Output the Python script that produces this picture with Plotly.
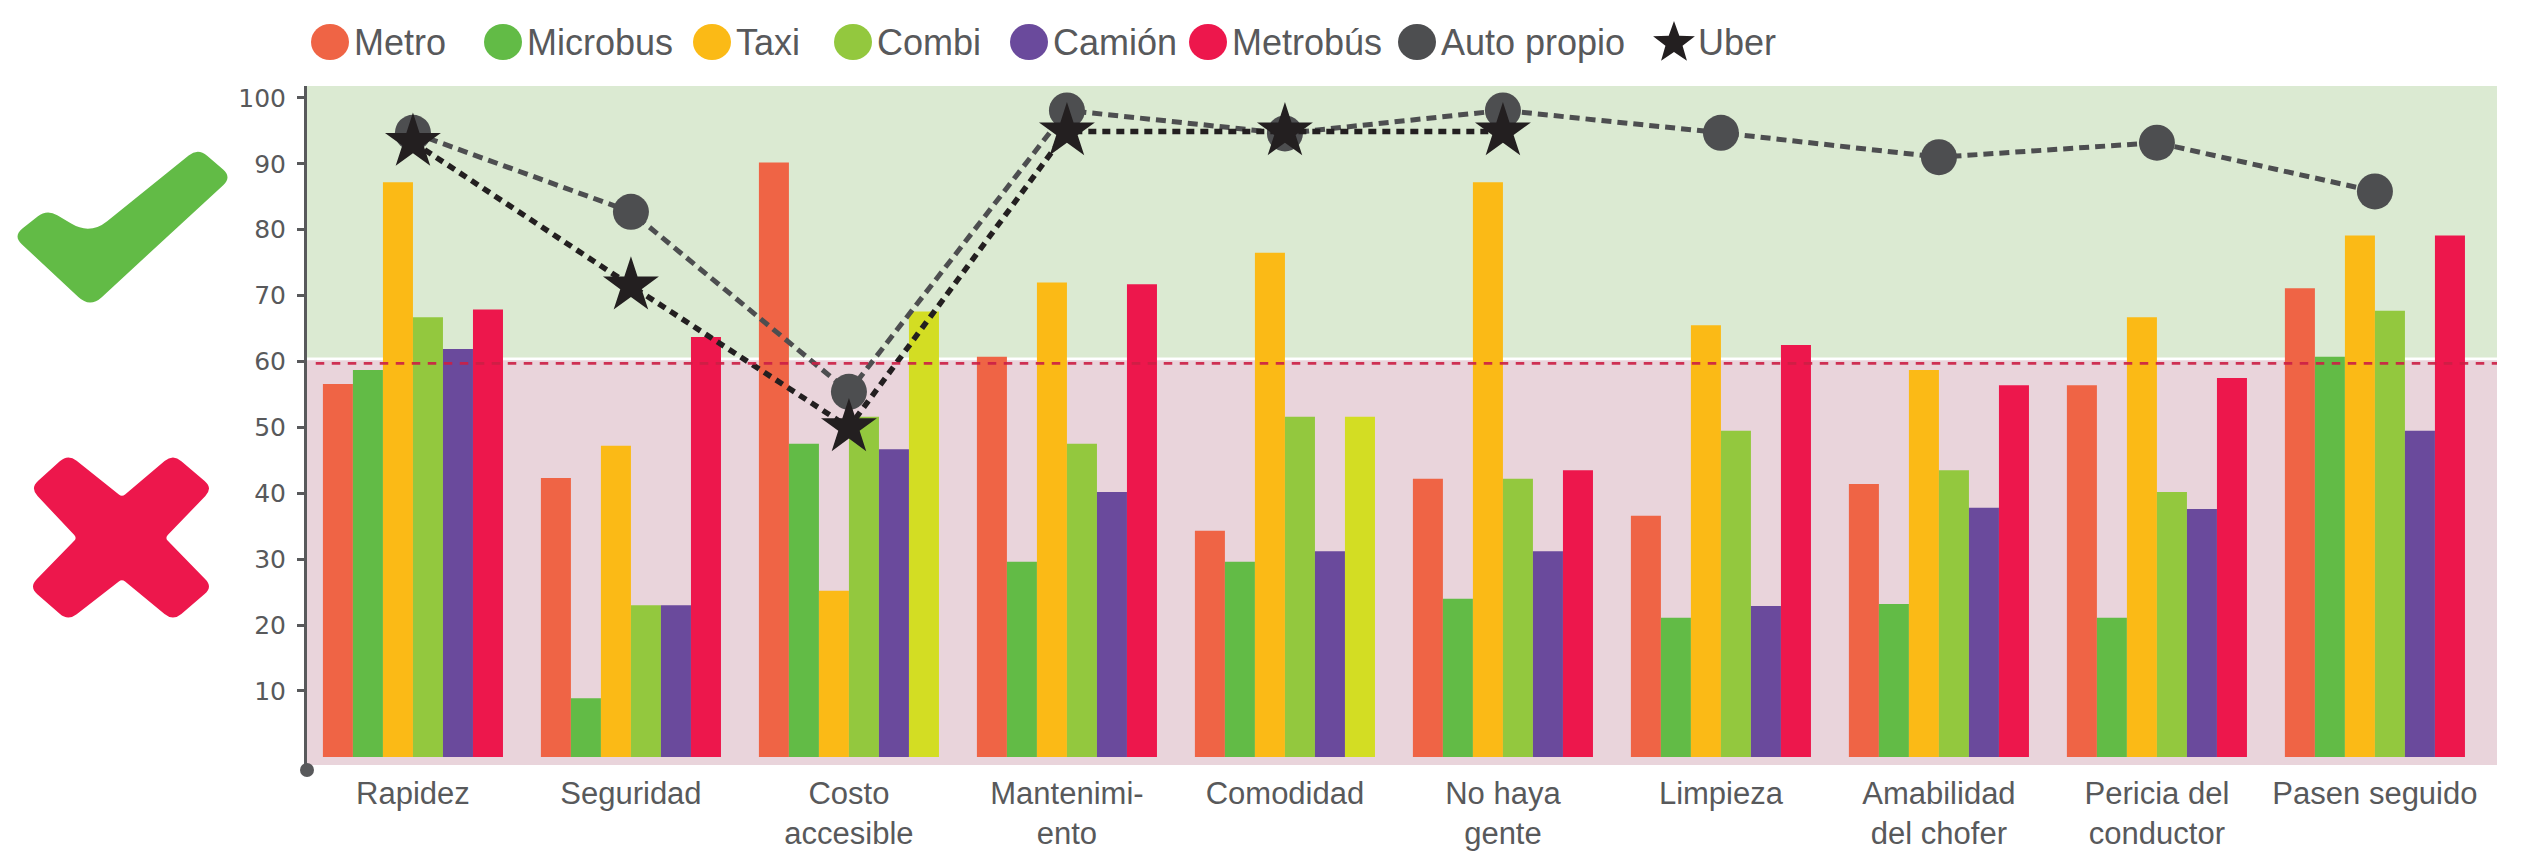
import plotly.graph_objects as go

# ---------------- data ----------------
categories = ["Rapidez", "Seguridad", "Costo<br>accesible", "Mantenimi-<br>ento", "Comodidad",
              "No haya<br>gente", "Limpieza", "Amabilidad<br>del chofer", "Pericia del<br>conductor",
              "Pasen seguido"]
metro = [56.6, 42.3, 90.2, 60.7, 34.3, 42.2, 36.6, 41.4, 56.4, 71.1]
microbus = [58.7, 8.9, 47.5, 29.6, 29.6, 24.0, 21.1, 23.2, 21.1, 60.7]
taxi = [87.2, 47.2, 25.2, 72.0, 76.5, 87.2, 65.5, 58.7, 66.7, 79.1]
combi = [66.7, 23.0, 51.6, 47.5, 51.6, 42.2, 49.5, 43.5, 40.2, 67.7]
camion = [61.9, 23.0, 46.7, 40.2, 31.2, 31.2, 22.9, 37.8, 37.6, 49.5]
metrobus = [67.9, 63.7, 67.6, 71.7, 51.6, 43.5, 62.5, 56.4, 57.5, 79.1]
auto_propio = [94.7, 82.7, 55.4, 98.1, 94.6, 98.1, 94.7, 91.0, 93.2, 85.8]
uber = [93.3, 71.5, 50.0, 94.9, 94.9, 94.9, None, None, None, None]
threshold = 59.7
y_ticks = [10, 20, 30, 40, 50, 60, 70, 80, 90, 100]

bar_names = ["Metro", "Microbus", "Taxi", "Combi", "Camión", "Metrobús"]
bar_values = [metro, microbus, taxi, combi, camion, metrobus]
bar_colors = ["#ef6445", "#62bb46", "#fbba16", "#93c83e", "#6a4a9c", "#ed174c"]
LIME = "#d3dd23"
metrobus_colors = [LIME if c in ("Costo<br>accesible", "Comodidad") else "#ed174c" for c in categories]

TEXT = "#58595b"
AUTO = "#4d4e50"
UBER = "#231f20"
FONT = "Liberation Sans, Arial, sans-serif"

# ---------------- geometry (page pixels) ----------------
PAGE_OFF = 8                      # default body margin of the html page
W, H = 2538 - PAGE_OFF, 855 - PAGE_OFF
L, R, T, B = 307, 2497, 86, 765   # plot area in page pixels


def px(x):
    return (x - L) / (R - L)


def py(y):
    return (B - y) / (B - T)


def rounded_path(pts, radii):
    n = len(pts)
    segs = []
    for i in range(n):
        vx, vy = pts[i]
        ax, ay = pts[i - 1]
        bx, by = pts[(i + 1) % n]
        r = radii[i]
        if r <= 0:
            segs.append(("L", (vx, vy)))
            continue
        da = ((ax - vx) ** 2 + (ay - vy) ** 2) ** 0.5
        db = ((bx - vx) ** 2 + (by - vy) ** 2) ** 0.5
        p1 = (vx + r * (ax - vx) / da, vy + r * (ay - vy) / da)
        p2 = (vx + r * (bx - vx) / db, vy + r * (by - vy) / db)
        segs.append(("Q", p1, (vx, vy), p2))
    out = []
    for k, s in enumerate(segs):
        if s[0] == "L":
            x, y = s[1]
            out.append(("M" if k == 0 else "L") + f"{px(x):.5f},{py(y):.5f}")
        else:
            (x1, y1), (cx, cy), (x2, y2) = s[1], s[2], s[3]
            out.append(("M" if k == 0 else "L") + f"{px(x1):.5f},{py(y1):.5f}")
            out.append(f"Q{px(cx):.5f},{py(cy):.5f} {px(x2):.5f},{py(y2):.5f}")
    return " ".join(out) + " Z"


def star_path(cx, cy, ro, ri):
    import math
    pts = []
    for k in range(10):
        ang = -math.pi / 2 + k * math.pi / 5
        r = ro if k % 2 == 0 else ri
        pts.append((cx + r * math.cos(ang), cy + r * math.sin(ang)))
    return "M" + " L".join(f"{px(x):.5f},{py(y):.5f}" for x, y in pts) + " Z"


fig = go.Figure()

for name, vals, col in zip(bar_names, bar_values, bar_colors):
    mc = metrobus_colors if name == "Metrobús" else col
    fig.add_trace(go.Bar(x=categories, y=vals, name=name, marker=dict(color=mc, line=dict(width=0)),
                         showlegend=False))

fig.add_trace(go.Scatter(x=categories, y=auto_propio, name="Auto propio", mode="lines+markers",
                         line=dict(color=AUTO, width=5, dash="10px,6px"),
                         marker=dict(symbol="circle", size=36, color=AUTO), showlegend=False))
fig.add_trace(go.Scatter(x=categories, y=uber, name="Uber", mode="lines+markers",
                         line=dict(color=UBER, width=5.5, dash="8px,6px"),
                         marker=dict(symbol="star", size=42, color=UBER), showlegend=False))

shapes = []
# background bands
shapes.append(dict(type="rect", xref="paper", yref="y", x0=0, x1=1, y0=60.6, y1=101.8,
                   fillcolor="#dbead2", line=dict(width=0), layer="below"))
shapes.append(dict(type="rect", xref="paper", yref="y", x0=0, x1=1, y0=-1.23, y1=60.2,
                   fillcolor="#e9d4db", line=dict(width=0), layer="below"))
# threshold line
shapes.append(dict(type="line", xref="paper", yref="y", x0=0.004, x1=1, y0=threshold, y1=threshold,
                   line=dict(color="#cc1f45", width=2.7, dash="8.5px,7.5px"), opacity=0.9, layer="above"))
# axis end dot
shapes.append(dict(type="circle", xref="paper", yref="paper", x0=px(300), x1=px(314), y0=py(777), y1=py(763),
                   fillcolor=TEXT, line=dict(width=0)))

# check mark
check_pts = [(13, 236), (47, 209), (90, 235), (198, 148), (232, 177), (90, 308)]
shapes.append(dict(type="path", xref="paper", yref="paper",
                   path=rounded_path(check_pts, [12, 12, 22, 12, 12, 16]),
                   fillcolor="#62bb46", line=dict(width=0)))
# cross
x_pts = [(30, 488), (68, 454), (122, 497), (173, 454), (213, 488), (165, 538),
         (213, 587), (173, 621), (122, 579), (68, 621), (29, 587), (77, 538)]
shapes.append(dict(type="path", xref="paper", yref="paper",
                   path=rounded_path(x_pts, [11, 11, 4, 11, 11, 4, 11, 11, 4, 11, 11, 4]),
                   fillcolor="#ed174c", line=dict(width=0)))

# custom legend
legend_names = bar_names + ["Auto propio", "Uber"]
legend_colors = bar_colors + [AUTO, UBER]
legend_x = [330, 503, 712, 853, 1029, 1208, 1417, 1674]
legend_y = 42
annotations = []
for nm, col, lx in zip(legend_names, legend_colors, legend_x):
    if nm == "Uber":
        shapes.append(dict(type="path", xref="paper", yref="paper", path=star_path(lx, legend_y + 1, 22, 9),
                           fillcolor=col, line=dict(width=0)))
    else:
        shapes.append(dict(type="circle", xref="paper", yref="paper",
                           x0=px(lx - 19), x1=px(lx + 19), y0=py(legend_y + 18), y1=py(legend_y - 18),
                           fillcolor=col, line=dict(width=0)))
    annotations.append(dict(x=px(lx + 22), y=py(legend_y), xref="paper", yref="paper", text=nm,
                            showarrow=False, xanchor="left", yanchor="middle",
                            font=dict(family=FONT, size=36, color=TEXT)))

fig.update_layout(
    width=W, height=H, autosize=False,
    margin=dict(l=L - PAGE_OFF, r=W - (R - PAGE_OFF), t=T - PAGE_OFF, b=H - (B - PAGE_OFF), autoexpand=False),
    paper_bgcolor="white", plot_bgcolor="white",
    barmode="group", bargap=0.174, bargroupgap=0,
    showlegend=False,
    shapes=shapes, annotations=annotations,
    xaxis=dict(type="category", range=[-0.486, 9.56], showgrid=False, zeroline=False, showline=False,
               automargin=False,
               ticks="", tickfont=dict(family=FONT, size=31, color=TEXT), ticklabelstandoff=7),
    yaxis=dict(range=[-1.23, 101.8], showgrid=False, zeroline=False, showline=True, linecolor=TEXT,
               automargin=False,
               linewidth=3, ticks="outside", ticklen=7, tickwidth=3, tickcolor=TEXT,
               tickvals=y_ticks, ticktext=[str(v) for v in y_ticks],
               tickfont=dict(family="DejaVu Sans", size=25, color=TEXT), ticklabelstandoff=6),
)

fig.write_html("out.html")
